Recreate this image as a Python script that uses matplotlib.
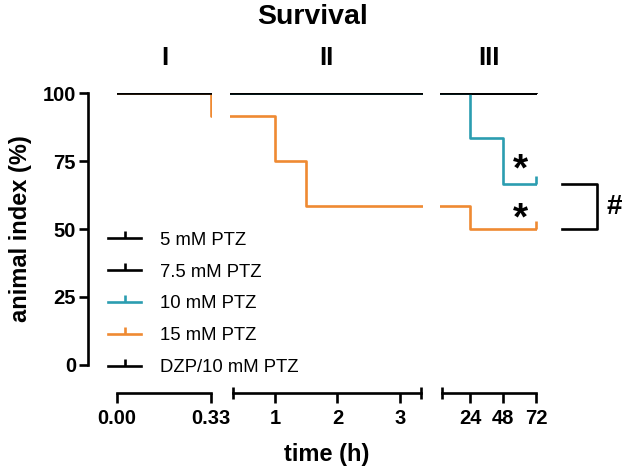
import matplotlib
matplotlib.use("Agg")
import matplotlib.pyplot as plt
from matplotlib.lines import Line2D

plt.rcParams["font.family"] = ["Liberation Sans", "DejaVu Sans"]

groups = ["5 mM PTZ", "7.5 mM PTZ", "10 mM PTZ", "15 mM PTZ", "DZP/10 mM PTZ"]
colors = ["black", "black", "#2b9db0", "#ef8a32", "black"]
# Kaplan-Meier steps: event times (h) and survival (%); last point is censored
times = [
    [0, 72],
    [0, 72],
    [0, 24, 48, 72],
    [0, 0.33, 1, 1.5, 24, 72],
    [0, 72],
]
survival = [
    [100, 100],
    [100, 100],
    [100, 83.3, 66.7, 66.7],
    [100, 91.7, 75, 58.3, 50, 50],
    [100, 100],
]
end_time = 72
segment_names = ["I", "II", "III"]
segment_xlim = [(0, 0.335), (0.28, 3.37), (2.5, 73)]
segment_bounds = [(0, 0.33), (0.335, 3.33), (4, 72)]
segment_ticks = [[0, 0.33], [1, 2, 3], [24, 48, 72]]
segment_ticklabels = [["0.00", "0.33"], ["1", "2", "3"], ["24", "48", "72"]]
y_ticks = [0, 25, 50, 75, 100]


def segment_view(t, s, x0, lo, hi):
    """Step curve inside (lo, hi], drawn from x0 with the value held at lo."""
    start = max(i for i, ti in enumerate(t) if ti <= lo)
    xs, ys = [x0], [s[start]]
    for ti, si in zip(t, s):
        if lo < ti <= hi:
            xs.append(ti)
            ys.append(si)
    if xs[-1] < hi:
        xs.append(hi)
        ys.append(ys[-1])
    return xs, ys


W, H = 628, 470
fig = plt.figure(figsize=(W / 100, H / 100), dpi=100)

# axes edges in pixels (left, right)
edges = [(117, 212.4), (230, 423.1), (440.4, 537.4)]
top_px, bottom_px = 93, 365
axes = []
for i, (l, r) in enumerate(edges):
    ax = fig.add_axes([l / W, (H - bottom_px) / H, (r - l) / W, (bottom_px - top_px) / H])
    axes.append(ax)
    x0, hi = segment_xlim[i]
    lo = max(x0, segment_bounds[i][0]) if i else x0
    for t, s, c in zip(times, survival, colors):
        xs, ys = segment_view(t, s, x0, lo, min(hi, end_time))
        censored = [k for k, x in enumerate(xs) if x == end_time]
        ax.plot(xs, ys, drawstyle="steps-post", color=c, lw=1.9,
                marker=2, markevery=censored, ms=6, mew=1.9)
    ax.set_xlim(x0, hi)
    ax.set_ylim(0, 100)
    ax.spines["top"].set_visible(False)
    ax.spines["right"].set_visible(False)
    ax.spines["bottom"].set_position(("outward", 20))
    ax.spines["bottom"].set_bounds(*segment_bounds[i])
    ax.spines["bottom"].set_linewidth(1.9)
    ax.set_xticks(segment_ticks[i])
    ax.set_xticklabels(segment_ticklabels[i], fontsize=14.5, fontweight="bold")
    ax.tick_params(axis="x", direction="out", length=7, width=1.9, pad=5)
    ax.set_xticks(list(segment_bounds[i]), minor=True)
    ax.tick_params(axis="x", which="minor", direction="inout", length=8, width=1.9)
    ax.text(0.5, 1.13, segment_names[i], transform=ax.transAxes, ha="center",
            va="center", fontsize=18.5, fontweight="bold")
    if i == 0:
        ax.spines["left"].set_position(("outward", 21))
        ax.spines["left"].set_linewidth(1.9)
        ax.set_yticks(y_ticks)
        ax.set_yticklabels([str(v) for v in y_ticks], fontsize=14.5, fontweight="bold")
        ax.tick_params(axis="y", direction="out", length=6.5, width=1.9, pad=2)
    else:
        ax.spines["left"].set_visible(False)
        ax.set_yticks([])

fig.text(21 / W, 1 - 229 / H, "animal index (%)", rotation=90, ha="center",
         va="center", fontsize=17, fontweight="bold")
fig.text(327 / W, 1 - 454 / H, "time (h)", ha="center", va="center",
         fontsize=17, fontweight="bold")
fig.text(312.5 / W, 1 - 17 / H, "Survival", ha="center", va="center",
         fontsize=20.5, fontweight="bold")

# significance marks
ax3 = axes[2]
ax3.text(60.4, 71.5, "*", ha="center", va="center", fontsize=28,
         fontweight="bold", clip_on=False)
ax3.text(60.4, 53.5, "*", ha="center", va="center", fontsize=28,
         fontweight="bold", clip_on=False)
ax3.plot([91, 116.4, 116.4, 91], [66.7, 66.7, 50, 50], color="black", lw=1.9,
         clip_on=False)
ax3.text(128.7, 58.0, "#", ha="center", va="center", fontsize=20,
         fontweight="bold", clip_on=False)

handles = [Line2D([0], [0], color=c, lw=1.9, marker=2, ms=5, mew=1.9)
           for c in colors]
fig.legend(handles, groups, loc="lower left", bbox_to_anchor=(108 / W, 1 - 376 / H),
           frameon=False, fontsize=13.3, handlelength=1.8, handletextpad=1.0,
           labelspacing=0.8, borderpad=0, borderaxespad=0, numpoints=1)

fig.savefig("out.png", dpi=100)
